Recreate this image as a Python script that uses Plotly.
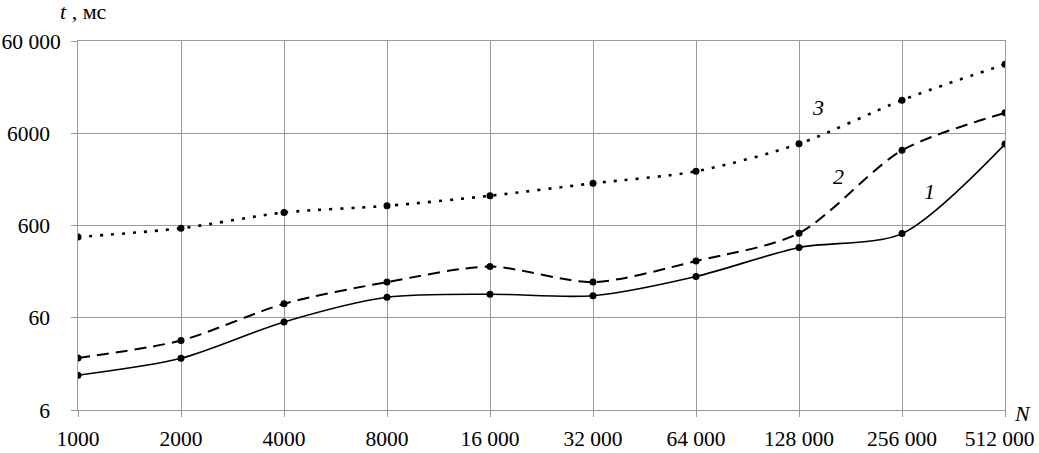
import plotly.graph_objects as go

N = [1000, 2000, 4000, 8000, 16000, 32000, 64000, 128000, 256000, 512000]
x_labels = ["1000", "2000", "4000", "8000", "16 000", "32 000", "64 000", "128 000", "256 000", "512 000"]
y_ticks = [6, 60, 600, 6000, 60000]
y_labels = ["6", "60", "600", "6000", "60 000"]

t1 = [14.3, 21.8, 54, 100, 108, 104, 168, 346, 490, 4580]
t2 = [22, 34, 85, 146, 215, 146, 247, 495, 3920, 9980]
t3 = [450, 560, 830, 980, 1260, 1720, 2320, 4610, 13700, 33600]

curve_labels = ["1", "2", "3"]

series = [
    (t1, "solid", 1.6),
    (t2, "12px,7px", 2.0),
    (t3, "3px,8px", 2.6),
]

fig = go.Figure()
for vals, dash, w in series:
    fig.add_trace(go.Scatter(
        x=N, y=vals, mode="lines+markers",
        line=dict(color="black", width=w, dash=dash, shape="spline", smoothing=0.8),
        marker=dict(color="black", size=7),
        showlegend=False,
    ))

FAM = "Liberation Serif, Times New Roman, Times, serif"
font = dict(family=FAM, size=21.5, color="black")
yfont = dict(family=FAM, size=21.5, color="black")
grid = "#9a9a9a"

# in the reference only the widest y label sits further right; pad the others
y_text = [lab if " " in lab else lab + "\u2002" for lab in y_labels]
# last x label sits slightly left of its tick in the reference
x_text = x_labels[:-1] + [x_labels[-1] + "\u2002"]

fig.update_xaxes(
    type="log", range=[3, 5.70927], tickvals=N, ticktext=x_text,
    showgrid=True, gridcolor=grid, gridwidth=1,
    showline=True, linecolor=grid, linewidth=1, mirror=True,
    ticks="outside", ticklen=6, tickcolor=grid,
    tickfont=font, ticklabelstandoff=3, automargin=False,
    ticklabeloverflow="allow",
)
fig.update_yaxes(
    type="log", range=[0.778151, 4.778151], tickvals=y_ticks, ticktext=y_text,
    showgrid=True, gridcolor=grid, gridwidth=1,
    showline=True, linecolor=grid, linewidth=1, mirror=True,
    ticks="outside", ticklen=6, tickcolor=grid,
    tickfont=yfont, ticklabelstandoff=6, automargin=False,
    ticklabeloverflow="allow",
)

ann_font = dict(family=FAM, size=22, color="black")
it_font = dict(family=FAM, size=22, color="black")

L, R, B, T = 78, 1005, 410.5, 40.7
def px(x, y):
    return (x - L) / (R - L), (B - y) / (B - T)

ax, ay = px(83, 11)
fig.add_annotation(xref="paper", yref="paper", x=ax, y=ay,
                   text="<i>t</i> , мс", showarrow=False, font=ann_font,
                   xanchor="center", yanchor="middle")
ax, ay = px(1022, 414)
fig.add_annotation(xref="paper", yref="paper", x=ax, y=ay,
                   text="<i>N</i>", showarrow=False, font=ann_font,
                   xanchor="center", yanchor="middle")

label_pos = [(929, 192), (838, 176), (818, 107)]
for lab, (lx, ly) in zip(curve_labels, label_pos):
    ax, ay = px(lx, ly)
    fig.add_annotation(xref="paper", yref="paper", x=ax, y=ay,
                       text="<i>" + lab + "</i>", showarrow=False, font=it_font,
                       xanchor="center", yanchor="middle")

W, H = 1039, 453
fig.update_layout(
    width=W, height=H,
    margin=dict(l=L, r=W - R, t=round(T), b=H - round(B), autoexpand=False),
    plot_bgcolor="white", paper_bgcolor="white",
)

fig.write_html("out.html", config={"displayModeBar": False},
               post_script="document.body.style.margin='0';document.body.style.overflow='hidden';")
